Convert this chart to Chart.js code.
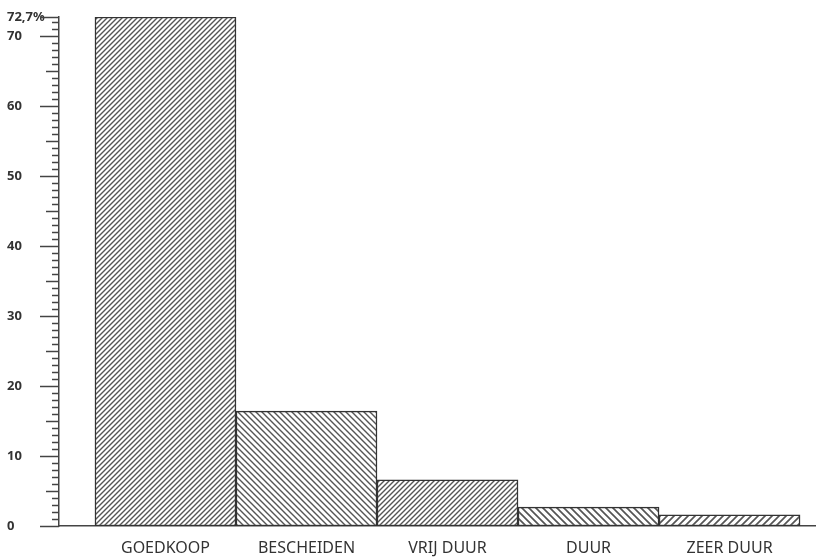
<!DOCTYPE html>
<html>
<head>
<meta charset="utf-8">
<script src="https://cdn.jsdelivr.net/npm/chart.js@4/dist/chart.umd.min.js"></script>
<style>
  body { margin: 0; background: #fff; }
  canvas { display: block; }
</style>
</head>
<body>
<canvas id="prijsChart" width="825" height="559"></canvas>
<script>
// gegevens
const categories = ['GOEDKOOP', 'BESCHEIDEN', 'VRIJ DUUR', 'DUUR', 'ZEER DUUR'];
const shares = [72.7, 16.4, 6.6, 2.7, 1.6];
const yTicks = [0, 10, 20, 30, 40, 50, 60, 70, 72.7];

// arcering per staaf
function hatch(dir, size, lw) {
  const c = document.createElement('canvas');
  c.width = size; c.height = size;
  const g = c.getContext('2d');
  g.fillStyle = '#fff';
  g.fillRect(0, 0, size, size);
  g.strokeStyle = '#555';
  g.lineWidth = lw;
  g.beginPath();
  if (dir === '/') {
    g.moveTo(0, size); g.lineTo(size, 0);
    g.moveTo(-1, 1); g.lineTo(1, -1);
    g.moveTo(size - 1, size + 1); g.lineTo(size + 1, size - 1);
  } else {
    g.moveTo(0, 0); g.lineTo(size, size);
    g.moveTo(-1, size - 1); g.lineTo(1, size + 1);
    g.moveTo(size - 1, -1); g.lineTo(size + 1, 1);
  }
  g.stroke();
  return g.createPattern(c, 'repeat');
}

const fills = [
  hatch('/', 5, 1.4),
  hatch('\\', 6, 1.4),
  hatch('/', 5, 1.4),
  hatch('\\', 7, 1.7),
  hatch('/', 7, 1.7)
];

// kleine streepjes langs de y-as
const minorTicks = {
  id: 'minorTicks',
  afterDraw(chart) {
    const y = chart.scales.y;
    const ctx = chart.ctx;
    const x0 = chart.chartArea.left;
    ctx.save();
    ctx.strokeStyle = '#444';
    ctx.lineWidth = 1.5;
    const marks = [];
    for (let v = 0; v <= 72; v++) marks.push(v);
    marks.push(72.7);
    marks.forEach(v => {
      let len = 7;
      if (v % 10 === 0 || v === 72.7) len = 19;
      else if (v % 5 === 0) len = 13;
      const py = Math.round(y.getPixelForValue(v)) + 0.5;
      ctx.beginPath();
      ctx.moveTo(x0 - len, py);
      ctx.lineTo(x0, py);
      ctx.stroke();
    });
    ctx.restore();
  }
};

new Chart(document.getElementById('prijsChart'), {
  type: 'bar',
  data: {
    datasets: [{
      data: shares.map((v, i) => ({ x: i, y: v })),
      backgroundColor: fills,
      borderColor: '#333',
      borderWidth: 1.5,
      borderSkipped: false,
      barPercentage: 1,
      categoryPercentage: 1
    }]
  },
  options: {
    responsive: false,
    animation: false,
    layout: { padding: { left: 7, top: 17, right: 10, bottom: 0 } },
    plugins: { legend: { display: false }, tooltip: { enabled: false } },
    scales: {
      x: {
        type: 'linear',
        offset: false,
        min: -0.755,
        max: 4.606,
        afterBuildTicks: s => { s.ticks = categories.map((c, i) => ({ value: i })); },
        afterFit: s => { s.height = 33; },
        grid: { display: false },
        border: { display: true, color: '#444', width: 1.5 },
        ticks: {
          callback: v => categories[v],
          padding: 5,
          maxRotation: 0,
          autoSkip: false,
          color: '#333',
          font: { family: 'Noto Sans', size: 16 }
        }
      },
      y: {
        min: 0,
        max: 72.7,
        afterBuildTicks: s => { s.ticks = yTicks.map(v => ({ value: v })); },
        afterFit: s => { s.width = 52; },
        grid: { display: false },
        border: { display: true, color: '#444', width: 1.5 },
        ticks: {
          callback: v => v === 72.7 ? '72,7%' : v,
          crossAlign: 'far',
          color: '#333',
          font: { family: 'Noto Sans', size: 13, weight: 'bold' }
        }
      }
    }
  },
  plugins: [minorTicks]
});
</script>
</body>
</html>
